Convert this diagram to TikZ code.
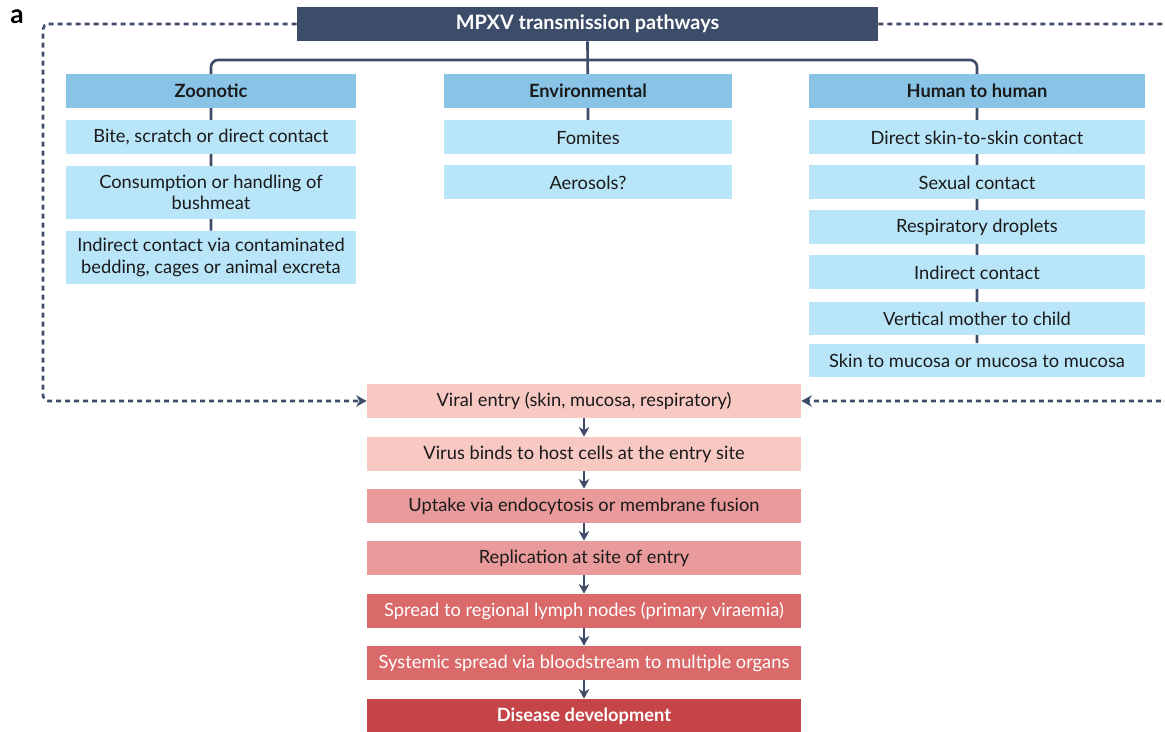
\documentclass[tikz,border=0pt]{standalone}
\usepackage{fontspec}
\setmainfont{Lato}
\usetikzlibrary{arrows.meta,backgrounds}
\definecolor{navy}{HTML}{3D4C68}
\definecolor{hdr}{HTML}{89C4E7}
\definecolor{itm}{HTML}{B9E5F9}
\definecolor{pk1}{HTML}{F8C8C3}
\definecolor{pk2}{HTML}{E89B9A}
\definecolor{rd3}{HTML}{DA6A69}
\definecolor{rd4}{HTML}{C44447}
\definecolor{txt}{HTML}{1A1A1A}
\tikzset{
  box/.style={rectangle, inner sep=0pt, align=center, font=\fontsize{10.4}{12.2}\selectfont, text=txt, minimum height=0.68cm},
  hdrbox/.style={box, fill=hdr, font=\fontsize{10.4}{12.2}\selectfont\bfseries},
  itmbox/.style={box, fill=itm},
  conn/.style={draw=navy, line width=1.5pt},
  dconn/.style={draw=navy, line width=1.5pt, dash pattern=on 0.1cm off 0.08cm, rounded corners=3pt},
  flowarrow/.style={draw=navy, line width=1.4pt, -{Stealth[length=5.5pt,width=6pt]}},
}
\begin{document}
\begin{tikzpicture}[x=0.02cm,y=-0.02cm]
\useasboundingbox (0,0) rectangle (1165,732);
\node[font=\fontsize{15}{15}\selectfont\bfseries] (lbl) at (17,17) {a};
\node[box, fill=navy, text=white, font=\fontsize{11.3}{12}\selectfont\bfseries, minimum width=11.62cm] (title) at (587.5,24) {MPXV transmission pathways};
% Zoonotic
\node[hdrbox, minimum width=5.8cm] (zh) at (211,91) {Zoonotic};
\node[itmbox, minimum width=5.8cm] (z1) at (211,137.5) {Bite, scratch or direct contact};
\node[itmbox, minimum width=5.8cm, minimum height=1.06cm] (z2) at (211,192.5) {Consumption or handling of\\bushmeat};
\node[itmbox, minimum width=5.8cm, minimum height=1.06cm] (z3) at (211,257.5) {Indirect contact via contaminated\\bedding, cages or animal excreta};
% Environmental
\node[hdrbox, minimum width=5.76cm] (eh) at (588,91) {Environmental};
\node[itmbox, minimum width=5.76cm] (e1) at (588,137.5) {Fomites};
\node[itmbox, minimum width=5.76cm] (e2) at (588,182.5) {Aerosols?};
% Human to human
\node[hdrbox, minimum width=6.72cm] (hh) at (977,91) {Human to human};
\node[itmbox, minimum width=6.72cm] (h1) at (977,137.5) {Direct skin-to-skin contact};
\node[itmbox, minimum width=6.72cm] (h2) at (977,182.5) {Sexual contact};
\node[itmbox, minimum width=6.72cm] (h3) at (977,227.5) {Respiratory droplets};
\node[itmbox, minimum width=6.72cm] (h4) at (977,272.5) {Indirect contact};
\node[itmbox, minimum width=6.72cm] (h5) at (977,318.5) {Vertical mother to child};
\node[itmbox, minimum width=6.72cm] (h6) at (977,360.5) {Skin to mucosa or mucosa to mucosa};
% Flow
\node[box, fill=pk1, minimum width=8.68cm] (f1) at (584,401) {Viral entry (skin, mucosa, respiratory)};
\node[box, fill=pk1, minimum width=8.68cm] (f2) at (584,454) {Virus binds to host cells at the entry site};
\node[box, fill=pk2, minimum width=8.68cm] (f3) at (584,506) {Uptake via endocytosis or membrane fusion};
\node[box, fill=pk2, minimum width=8.68cm] (f4) at (584,558) {Replication at site of entry};
\node[box, fill=rd3, text=white, minimum width=8.68cm] (f5) at (584,611) {Spread to regional lymph nodes (primary viraemia)};
\node[box, fill=rd3, text=white, minimum width=8.68cm] (f6) at (584,663) {Systemic spread via bloodstream to multiple organs};
\node[box, fill=rd4, text=white, font=\fontsize{10.4}{12.2}\selectfont\bfseries, minimum width=8.68cm] (f7) at (584,716) {Disease development};
\coordinate (bar) at (588,60);
\coordinate (lx) at (43,402);
\coordinate (rx) at (1180,402);
\begin{scope}[on background layer]
\draw[conn] (title.south) -- (e1.north);
\draw[conn, rounded corners=4pt] (z3.north) -- (z3.north |- bar) -- (h6.north |- bar) -- (h6.north);
\end{scope}
\draw[dconn, -{Stealth[length=6pt,width=6.5pt]}] (title.west) -- (title.west -| lx) -- (lx |- f1.west) -- (f1.west);
\draw[dconn, -{Stealth[length=6pt,width=6.5pt]}] (title.east) -- (title.east -| rx) -- (rx |- f1.east) -- (f1.east);
\draw[flowarrow] (f1) -- (f2);
\draw[flowarrow] (f2) -- (f3);
\draw[flowarrow] (f3) -- (f4);
\draw[flowarrow] (f4) -- (f5);
\draw[flowarrow] (f5) -- (f6);
\draw[flowarrow] (f6) -- (f7);
\end{tikzpicture}
\end{document}
